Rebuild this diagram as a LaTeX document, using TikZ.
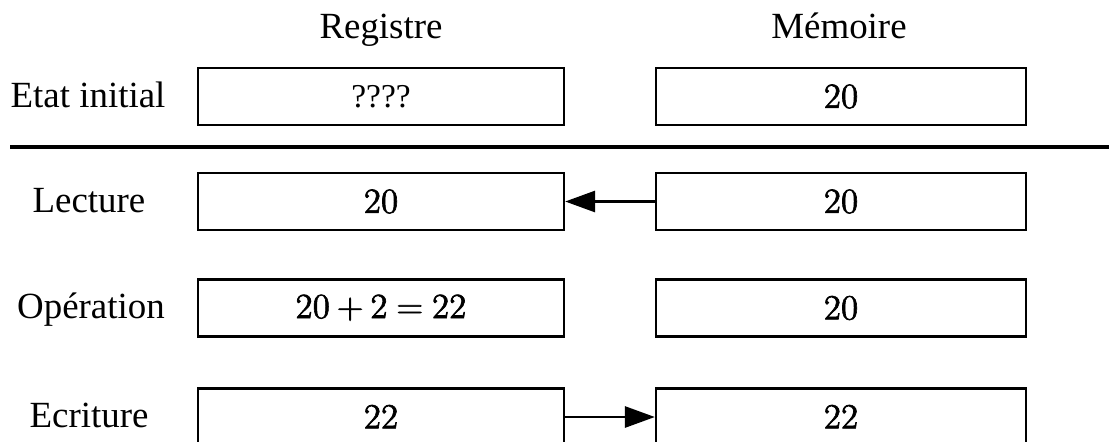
\documentclass[tikz,border=0pt]{standalone}
\usepackage{fontspec}
\setmainfont{Liberation Serif}
\usetikzlibrary{arrows.meta}

% values in the boxes: 12pt Computer Modern, blown up, stroked a bit heavier
\newcommand{\val}[1]{\scalebox{1.67}{\fontsize{12}{14}\selectfont\medmuskip=3.5mu\thickmuskip=4.5mu%
    \special{pdf:literal direct 2 Tr 0.22 w}$#1$\special{pdf:literal direct 0 Tr}}}

\begin{document}
\begin{tikzpicture}[x=0.02cm,y=-0.02cm,>={Triangle[length=17pt,width=12pt]},
    box node/.style={draw,line width=1.4pt,rectangle,inner sep=0pt,minimum height=1.14cm,font=\fontsize{19}{23}\selectfont},
    reg node/.style={box node,minimum width=7.32cm},
    mem node/.style={box node,minimum width=7.4cm},
    step name/.style={anchor=base,inner sep=0pt,font=\fontsize{21}{25}\selectfont},
    link/.style={->,line width=1.4pt,shorten >=0pt}]
                \useasboundingbox (0,0) rectangle (1109,441);
                \node[step name] (reg) at (381,38) {Registre};
                \node[step name] (mem) at (839,38) {Mémoire};

                \node[step name] (s1) at (88,107) {Etat initial};
                \node[reg node] (r1) at (381,96.5) {????};
                \node[mem node] (m1) at (841,96.5) {\val{20}};

                \draw[line width=2.8pt] (10,147) -- (1109,147);

                \node[step name] (s2) at (89,212) {Lecture};
                \node[reg node] (r2) at (381,201.5) {\val{20}};
                \node[mem node] (m2) at (841,201.5) {\val{20}};

                \node[step name] (s3) at (91,318) {Opération};
                \node[reg node] (r3) at (381,308) {\val{20 + 2 = 22}};
                \node[mem node] (m3) at (841,308) {\val{20}};

                \node[step name] (s4) at (89,427) {Ecriture};
                \node[reg node] (r4) at (381,417) {\val{22}};
                \node[mem node] (m4) at (841,417) {\val{22}};

                \path[link]
                    (m2) edge (r2)
                    (r4) edge (m4)
                    ;
            \end{tikzpicture}
\end{document}
